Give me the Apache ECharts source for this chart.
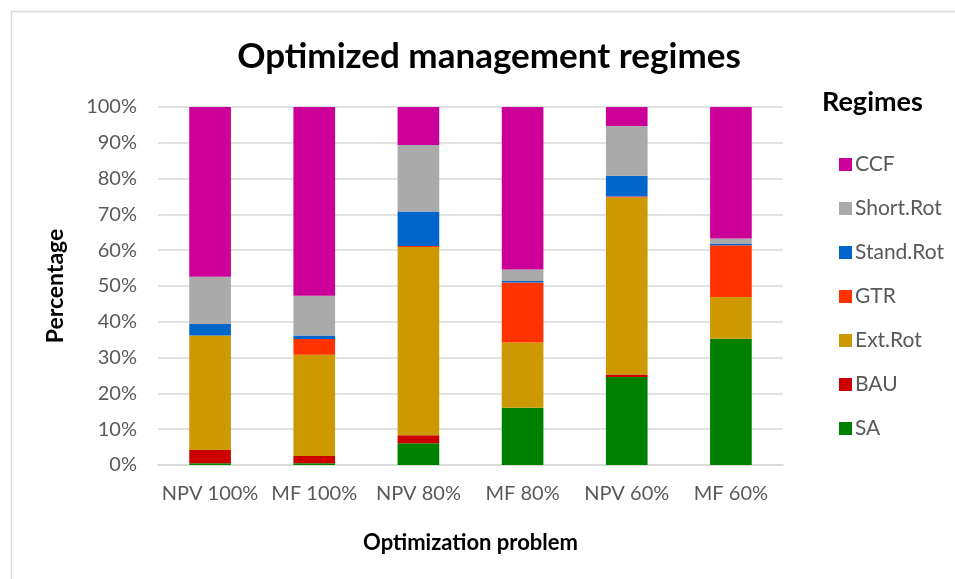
<!DOCTYPE html>
<html>
<head>
<meta charset="utf-8">
<script src="https://cdn.jsdelivr.net/npm/echarts@6/dist/echarts.min.js"></script>
<style>
  html, body { margin: 0; padding: 0; background: #fff; }
  #chart { width: 955px; height: 579px; }
</style>
</head>
<body>
<div id="chart"></div>
<script>
// categories on x axis
const categories = ['NPV 100%', 'MF 100%', 'NPV 80%', 'MF 80%', 'NPV 60%', 'MF 60%']

// share of each regime (%)
const SA       = [0.5, 0.5, 6.1, 16.0, 24.6, 35.3]
const BAU      = [3.7, 2.0, 2.2, 0, 0.7, 0]
const ExtRot   = [32.0, 28.3, 52.6, 18.2, 49.4, 11.6]
const GTR      = [0, 4.4, 0.3, 16.8, 0.3, 14.5]
const StandRot = [3.2, 1.0, 9.6, 0.4, 5.8, 0.5]
const ShortRot = [13.2, 11.1, 18.6, 3.2, 13.9, 1.4]
const CCF      = [47.4, 52.7, 10.7, 45.4, 5.3, 36.7]

const yTicks = [0, 10, 20, 30, 40, 50, 60, 70, 80, 90, 100]

// stacking order bottom -> top
const regimes = [
  { name: 'SA', data: SA, color: '#008000' },
  { name: 'BAU', data: BAU, color: '#cc0000' },
  { name: 'Ext.Rot', data: ExtRot, color: '#cc9900' },
  { name: 'GTR', data: GTR, color: '#ff3300' },
  { name: 'Stand.Rot', data: StandRot, color: '#0066cc' },
  { name: 'Short.Rot', data: ShortRot, color: '#aaaaaa' },
  { name: 'CCF', data: CCF, color: '#cc0099' }
]

const font = 'Lato, "Open Sans", sans-serif'

const chart = echarts.init(document.getElementById('chart'))
chart.setOption({
  animation: false,
  textStyle: { fontFamily: font },
  graphic: [
    // outer frame (only top / left edges visible in the crop)
    {
      type: 'rect',
      left: 9, top: 9,
      shape: { width: 1000, height: 1000 },
      style: { fill: 'none', stroke: '#d9d9d9', lineWidth: 1.5 },
      silent: true
    },
    {
      type: 'text',
      left: 822, top: 89,
      style: { text: 'Regimes', font: 'bold 27px ' + font, fill: '#000' }
    }
  ],
  title: {
    text: 'Optimized management regimes',
    left: 484, top: 34,
    textAlign: 'center',
    textStyle: { fontFamily: font, fontSize: 35, fontWeight: 'bold', color: '#000' }
  },
  legend: {
    orient: 'vertical',
    left: 834, top: 149,
    itemWidth: 13, itemHeight: 13,
    itemGap: 23,
    icon: 'rect',
    data: regimes.map(r => r.name).reverse(),
    textStyle: { fontFamily: font, fontSize: 21, color: '#595959', padding: [0, 0, 0, -2] }
  },
  grid: { left: 158, right: 172, top: 107, bottom: 114 },
  xAxis: {
    type: 'category',
    data: categories,
    name: 'Optimization problem',
    nameLocation: 'middle',
    nameGap: 67,
    nameTextStyle: { fontFamily: font, fontSize: 22, fontWeight: 'bold', color: '#000' },
    axisLine: { lineStyle: { color: '#d9d9d9', width: 1.5 } },
    axisTick: { show: false },
    axisLabel: { fontSize: 20, color: '#595959', margin: 19, interval: 0 }
  },
  yAxis: {
    type: 'value',
    min: yTicks[0], max: yTicks[yTicks.length - 1], interval: 10,
    name: 'Percentage',
    nameLocation: 'middle',
    nameGap: 91,
    nameTextStyle: { fontFamily: font, fontSize: 23, fontWeight: 'bold', color: '#000' },
    axisLine: { show: false },
    axisTick: { show: false },
    axisLabel: { fontSize: 20, color: '#595959', margin: 21, formatter: '{value}%' },
    splitLine: { lineStyle: { color: '#d9d9d9', width: 1.5 } }
  },
  series: regimes.map(r => ({
    name: r.name,
    type: 'bar',
    stack: 'total',
    barWidth: '40%',
    data: r.data,
    itemStyle: { color: r.color }
  }))
})
</script>
</body>
</html>
